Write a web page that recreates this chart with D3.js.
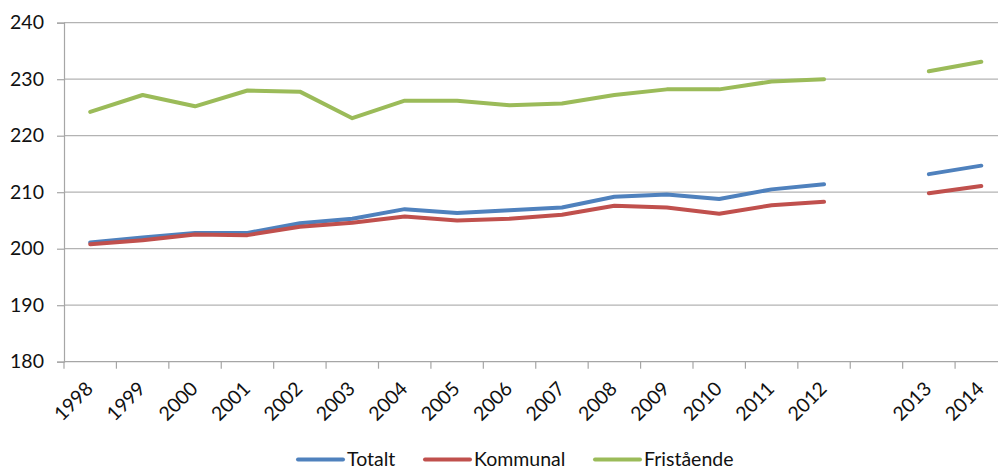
<!DOCTYPE html>
<html>
<head>
<meta charset="utf-8">
<script src="https://cdn.jsdelivr.net/npm/d3@7"></script>
<style>
  html, body { margin: 0; padding: 0; background: #fff; }
  svg { display: block; }
  text { font-family: Lato, "Open Sans", sans-serif; fill: #111; }
</style>
</head>
<body>
<svg id="chart" width="998" height="469"></svg>
<script>
const categories = ["1998","1999","2000","2001","2002","2003","2004","2005","2006","2007","2008","2009","2010","2011","2012"," ","2013","2014"];
const totalt =     [201.1, 202.0, 202.8, 202.8, 204.5, 205.3, 207.0, 206.3, 206.8, 207.3, 209.2, 209.6, 208.8, 210.5, 211.4, null, 213.2, 214.7];
const kommunal =   [200.8, 201.5, 202.5, 202.4, 203.9, 204.6, 205.7, 205.0, 205.3, 206.0, 207.6, 207.3, 206.2, 207.7, 208.3, null, 209.8, 211.1];
const fristaende = [224.2, 227.2, 225.2, 228.0, 227.8, 223.1, 226.2, 226.2, 225.4, 225.7, 227.2, 228.2, 228.2, 229.6, 230.0, null, 231.4, 233.1];
const yTicks = [180, 190, 200, 210, 220, 230, 240];
const seriesNames = ["Totalt", "Kommunal", "Fristående"];
const seriesColors = ["#4F81BD", "#C0504D", "#9BBB59"];

const svg = d3.select("#chart");
const pLeft = 64, pRight = 1007.5, pTop = 22.7, pBottom = 361.7;
const fs = 19.5;

const x = d3.scaleBand().domain(categories).range([pLeft, pRight]).padding(0);
const y = d3.scaleLinear().domain([180, 240]).range([pBottom, pTop]);

// gridlines
svg.append("g").selectAll("line").data(yTicks.filter(t => t !== 180)).join("line")
  .attr("x1", pLeft).attr("x2", pRight)
  .attr("y1", d => y(d)).attr("y2", d => y(d))
  .attr("stroke", "#b3b3b3").attr("stroke-width", 1.2);

// y axis
const yAxis = svg.append("g").attr("transform", `translate(${pLeft},0)`)
  .call(d3.axisLeft(y).tickValues(yTicks).tickSize(7).tickPadding(13).tickFormat(d3.format("d")));
yAxis.select(".domain").attr("stroke", "#a6a6a6").attr("stroke-width", 1.2);
yAxis.selectAll(".tick line").attr("stroke", "#a6a6a6").attr("stroke-width", 1.2);
yAxis.selectAll(".tick text").attr("font-size", fs).attr("fill", "#111").style("font-family", "Lato, 'Open Sans', sans-serif");

// x axis line and ticks at band boundaries
svg.append("line").attr("x1", pLeft).attr("x2", pRight).attr("y1", pBottom).attr("y2", pBottom)
  .attr("stroke", "#a6a6a6").attr("stroke-width", 1.2);
const boundaries = categories.map(c => x(c)).concat([x(categories[categories.length-1]) + x.bandwidth()]);
svg.append("g").selectAll("line").data(boundaries).join("line")
  .attr("x1", d => d).attr("x2", d => d)
  .attr("y1", pBottom).attr("y2", pBottom + 7)
  .attr("stroke", "#a6a6a6").attr("stroke-width", 1.2);

// x labels
svg.append("g").selectAll("text").data(categories.filter(c => c.trim() !== "")).join("text")
  .attr("transform", d => `translate(${x(d) + x.bandwidth()/2 + 4},${390}) rotate(-45)`)
  .attr("text-anchor", "end")
  .attr("font-size", fs)
  .text(d => d);

// lines
const allSeries = [totalt, kommunal, fristaende];
const line = d3.line()
  .defined(d => d.v !== null)
  .x(d => x(d.c) + x.bandwidth()/2)
  .y(d => y(d.v));
allSeries.forEach((vals, i) => {
  const data = categories.map((c, j) => ({c, v: vals[j]}));
  svg.append("path").datum(data)
    .attr("d", line)
    .attr("fill", "none")
    .attr("stroke", seriesColors[i])
    .attr("stroke-width", 4)
    .attr("stroke-linecap", "round")
    .attr("stroke-linejoin", "round");
});

// legend
const legendX = [298, 425, 595];
const legend = svg.append("g");
seriesNames.forEach((name, i) => {
  legend.append("line")
    .attr("x1", legendX[i]).attr("x2", legendX[i] + 45)
    .attr("y1", 459.5).attr("y2", 459.5)
    .attr("stroke", seriesColors[i]).attr("stroke-width", 4).attr("stroke-linecap", "round");
  legend.append("text")
    .attr("x", legendX[i] + 49).attr("y", 466)
    .attr("font-size", fs)
    .text(name);
});
</script>
</body>
</html>
